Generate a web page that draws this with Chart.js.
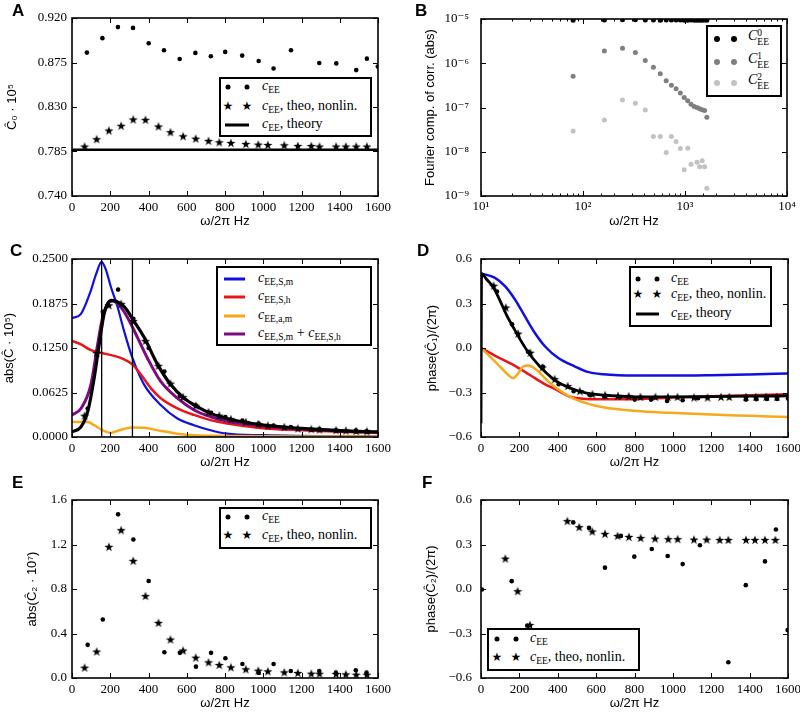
<!DOCTYPE html>
<html>
<head>
<meta charset="utf-8">
<title>Fourier components of EE correlations</title>
<script src="https://cdn.jsdelivr.net/npm/chart.js@4.4.1/dist/chart.umd.min.js"></script>
<style>
  body { margin: 0; width: 800px; height: 720px; position: relative; overflow: hidden; background: #fff; }
  .panel { position: absolute; width: 400px; height: 238px; }
  .tag { position: absolute; font: bold 17px "Liberation Sans", Arial, sans-serif; line-height: 17px; }
  .legend { position: absolute; box-sizing: border-box; border: 2px solid #000; background: #fff; }
  .lbl { position: absolute; font: 14px "Liberation Serif", "DejaVu Serif", serif; line-height: 14px; white-space: nowrap; transform: translateY(-55%); }
  .lbl sub { font-size: 9.5px; vertical-align: -3px; line-height: 0; }
  .dot { position: absolute; width: 5px; height: 5px; border-radius: 50%; transform: translate(-50%, -50%); }
  .star { position: absolute; font: 12px "DejaVu Sans", sans-serif; line-height: 12px; transform: translate(-50%, -55%); }
  .seg { position: absolute; height: 3px; transform: translateY(-50%); }
  .ss { display: inline-block; vertical-align: -5px; font-size: 9.5px; line-height: 9px; }
  .ss span { display: block; }
</style>
</head>
<body>
<script>
// ---------- data ----------
const freqTicks = [0, 200, 400, 600, 800, 1000, 1200, 1400, 1600];
const starFreq = [66, 129, 193, 257, 320, 384, 452, 515, 581, 647, 714, 770, 831, 909, 974, 1024, 1110, 1181, 1251, 1294, 1381, 1432, 1486, 1542];

// A: C0
const c0Ticks = [0.740, 0.785, 0.830, 0.875, 0.920];
const dotFreqA = [78, 159, 240, 319, 401, 481, 563, 645, 726, 801, 890, 976, 1054, 1145, 1293, 1382, 1486, 1542, 1599];
const c0Sim = [0.885, 0.8996, 0.9108, 0.910, 0.8945, 0.8874, 0.8786, 0.8847, 0.8813, 0.8857, 0.882, 0.8765, 0.869, 0.8874, 0.8745, 0.8741, 0.8673, 0.8789, 0.871];
const c0Nonlin = [0.790, 0.7974, 0.8062, 0.811, 0.8174, 0.817, 0.8103, 0.8045, 0.8004, 0.798, 0.7957, 0.7943, 0.7936, 0.7926, 0.792, 0.7916, 0.7913, 0.7906, 0.7906, 0.790, 0.790, 0.790, 0.790, 0.790];
const c0Theory = 0.7868;

// B: fourier components (log-log)
const freqB = [80, 162, 244, 326, 408, 490, 572, 654, 736, 818, 900, 982, 1064, 1146, 1228, 1310, 1392, 1474, 1556, 1638];
const fourier0 = [9.4e-6, 9.5e-6, 9.6e-6, 9.6e-6, 9.5e-6, 9.5e-6, 9.4e-6, 9.5e-6, 9.5e-6, 9.5e-6, 9.5e-6, 9.4e-6, 9.4e-6, 9.5e-6, 9.4e-6, 9.4e-6, 9.4e-6, 9.4e-6, 9.5e-6, 9.4e-6];
const fourier1 = [5.06e-7, 1.89e-6, 2.17e-6, 1.76e-6, 1.16e-6, 8.1e-7, 5.8e-7, 4.0e-7, 3.2e-7, 2.65e-7, 2.14e-7, 1.68e-7, 1.43e-7, 1.18e-7, 1.05e-7, 1.0e-7, 9.4e-8, 8.9e-8, 8.6e-8, 6.0e-8];
const fourier2 = [2.95e-8, 5.2e-8, 1.48e-7, 1.24e-7, 8.8e-8, 2.2e-8, 2.2e-8, 9.6e-9, 2.2e-8, 1.7e-8, 1.19e-8, 3.9e-9, 1.2e-8, 5.2e-9, null, 5.8e-9, 4.6e-9, 6.3e-9, 4.6e-9, 1.5e-9];

// C: abs(C1)
const absTicksC = [0, 0.0625, 0.125, 0.1875, 0.25];
const sMFreqC = [0, 47, 99, 125, 155, 177, 203, 238, 272, 316, 377, 464, 551, 638, 724, 811, 1000, 1200, 1400, 1600];
const sMAbs = [0.167, 0.173, 0.206, 0.228, 0.246, 0.235, 0.211, 0.183, 0.149, 0.111, 0.0736, 0.045, 0.026, 0.0166, 0.0095, 0.0047, 0.0025, 0.0015, 0.001, 0.0007];
const sHFreqC = [0, 47, 99, 155, 221, 273, 316, 360, 412, 464, 551, 638, 724, 811, 984, 1200, 1400, 1600];
const sHAbs = [0.135, 0.130, 0.122, 0.118, 0.114, 0.109, 0.102, 0.0878, 0.0687, 0.0545, 0.0403, 0.031, 0.0237, 0.019, 0.0128, 0.0095, 0.0072, 0.0057];
const aMFreqC = [0, 47, 82, 116, 160, 203, 247, 316, 377, 464, 551, 638, 811, 1000, 1200, 1600];
const aMAbs = [0.0213, 0.0209, 0.0209, 0.0166, 0.0095, 0.0057, 0.0095, 0.0133, 0.013, 0.0085, 0.0047, 0.0024, 0.0015, 0.001, 0.0007, 0.0005];
const sumFreqC = [0, 47, 99, 134, 160, 186, 212, 247, 290, 342, 394, 464, 551, 638, 724, 811, 984, 1200, 1400, 1600];
const sumAbs = [0.0308, 0.040, 0.0736, 0.130, 0.168, 0.187, 0.191, 0.185, 0.168, 0.140, 0.111, 0.078, 0.0545, 0.038, 0.0285, 0.0223, 0.0157, 0.011, 0.0085, 0.0065];
const theoFreqC = [0, 47, 82, 116, 142, 168, 203, 229, 273, 316, 377, 447, 516, 586, 655, 724, 811, 984, 1200, 1400, 1600];
const theoAbs = [0.0071, 0.0142, 0.0356, 0.083, 0.130, 0.173, 0.192, 0.191, 0.183, 0.166, 0.140, 0.102, 0.0736, 0.0545, 0.0427, 0.0332, 0.026, 0.0175, 0.012, 0.009, 0.0071];
const dotFreqC = [82, 161, 241, 321, 401, 483, 564, 648, 727, 802, 891, 976, 1054, 1144, 1293, 1380, 1484, 1540];
const c1AbsSim = [0.04, 0.176, 0.207, 0.166, 0.125, 0.092, 0.058, 0.044, 0.034, 0.028, 0.023, 0.019, 0.016, 0.014, 0.011, 0.0095, 0.009, 0.008];
const c1AbsNonlin = [0.03, 0.118, 0.185, 0.187, 0.163, 0.135, 0.10, 0.075, 0.056, 0.044, 0.035, 0.03, 0.025, 0.021, 0.018, 0.016, 0.014, 0.012, 0.011, 0.0105, 0.0095, 0.009, 0.0085, 0.008];
const markerFreqC = [155, 316];

// D: phase(C1)
const phaseTicks = [-0.6, -0.3, 0, 0.3, 0.6];
const sMFreqD = [0, 73, 125, 177, 229, 281, 334, 403, 490, 551, 637, 811, 985, 1200, 1400, 1600];
const sMPhase = [0.503, 0.473, 0.417, 0.327, 0.213, 0.101, 0.01, -0.068, -0.125, -0.159, -0.177, -0.186, -0.186, -0.183, -0.178, -0.172];
const sHFreqD = [0, 82, 168, 255, 325, 394, 464, 551, 637, 811, 985, 1200, 1400, 1600];
const sHPhase = [0, -0.058, -0.114, -0.182, -0.238, -0.283, -0.329, -0.344, -0.346, -0.344, -0.335, -0.325, -0.318, -0.311];
const aMFreqD = [0, 47, 99, 142, 168, 194, 220, 247, 290, 342, 394, 464, 551, 637, 811, 985, 1200, 1400, 1600];
const aMPhase = [0, -0.058, -0.125, -0.182, -0.204, -0.170, -0.125, -0.118, -0.148, -0.215, -0.272, -0.329, -0.373, -0.4, -0.425, -0.437, -0.449, -0.457, -0.465];
const theoFreqD = [0, 3, 30, 64, 99, 134, 168, 203, 247, 290, 342, 394, 464, 551, 637, 811, 1000, 1200, 1400, 1600];
const theoPhase = [-0.507, 0.5, 0.462, 0.41, 0.32, 0.22, 0.14, 0.06, -0.03, -0.10, -0.17, -0.225, -0.27, -0.305, -0.318, -0.329, -0.33, -0.328, -0.325, -0.323];
const dotFreqD = [83, 162, 245, 323, 405, 483, 565, 643, 723, 801, 886, 970, 1051, 1131, 1381, 1435, 1490, 1543, 1600];
const c1PhaseSim = [0.381, 0.16, -0.025, -0.126, -0.244, -0.291, -0.316, -0.33, -0.332, -0.348, -0.348, -0.357, -0.352, -0.339, -0.348, -0.345, -0.343, -0.343, -0.34];
const c1PhaseNonlin = [0.42, 0.273, 0.097, -0.032, -0.131, -0.21, -0.257, -0.291, -0.312, -0.318, -0.323, -0.325, -0.33, -0.33, -0.33, -0.33, -0.334, -0.334, -0.33, -0.33, -0.33, -0.33, -0.33, -0.33];

// E: abs(C2)
const absTicksE = [0, 0.4, 0.8, 1.2, 1.6];
const dotFreqE = [82, 161, 241, 321, 401, 483, 564, 648, 727, 802, 891, 976, 1054, 1144, 1293, 1380, 1484, 1540];
const c2AbsSim = [0.298, 0.526, 1.471, 1.245, 0.872, 0.232, 0.226, 0.102, 0.226, 0.177, 0.126, 0.045, 0.126, 0.063, 0.063, 0.048, 0.069, 0.048];
const c2AbsNonlin = [0.093, 0.238, 1.179, 1.329, 1.053, 0.737, 0.496, 0.346, 0.247, 0.183, 0.141, 0.117, 0.096, 0.078, 0.066, 0.06, 0.051, 0.045, 0.039, 0.039, 0.036, 0.033, 0.03, 0.03];

// F: phase(C2)
const dotFreqF = [5, 160, 241, 481, 563, 646, 729, 799, 890, 973, 1051, 1141, 1289, 1380, 1480, 1537, 1598];
const c2PhaseSim = [-0.003, 0.053, -0.247, 0.449, 0.412, 0.144, 0.358, 0.218, 0.27, 0.222, 0.168, 0.295, -0.494, 0.026, 0.186, 0.401, -0.277];
const starFreqF = [127, 191, 255, 450, 512, 580, 646, 712, 771, 832, 907, 976, 1025, 1110, 1176, 1244, 1289, 1381, 1428, 1480, 1534];
const c2PhaseNonlin = [0.205, -0.015, -0.243, 0.458, 0.417, 0.388, 0.372, 0.358, 0.351, 0.344, 0.34, 0.336, 0.336, 0.333, 0.333, 0.331, 0.331, 0.331, 0.331, 0.331, 0.331];

// ---------- helpers ----------
const BLUE = '#1010e0', RED = '#e8161b', ORANGE = '#f7a81b', PURPLE = '#7d0a80';
const GRAY1 = '#7f7f7f', GRAY2 = '#c2c2c2';
const tickFont = { family: '"Liberation Serif", "DejaVu Serif", serif', size: 13 };
const titleFont = { family: '"Liberation Sans", Arial, sans-serif', size: 13 };

const STAR = (() => {
  const c = document.createElement('canvas');
  c.width = c.height = 10;
  const g = c.getContext('2d');
  g.beginPath();
  for (let i = 0; i < 10; i++) {
    const r = i % 2 ? 1.9 : 4.8;
    const a = -Math.PI / 2 + i * Math.PI / 5;
    g.lineTo(5 + r * Math.cos(a), 5.4 + r * Math.sin(a));
  }
  g.closePath();
  g.fillStyle = '#000';
  g.fill();
  return c;
})();

const pts = (xs, ys) => xs.map((x, i) => ({ x, y: ys[i] })).filter(p => p.y != null);
const curve = (xs, ys, color, width, order) => ({
  data: pts(xs, ys), showLine: true, borderColor: color, borderWidth: width,
  pointRadius: 0, cubicInterpolationMode: 'monotone', order
});
const dots = (xs, ys, color, r, order) => ({
  data: pts(xs, ys), pointStyle: 'circle', pointRadius: r, pointBorderWidth: 0,
  backgroundColor: color, borderColor: color, order
});
const stars = (xs, ys, order) => ({ data: pts(xs, ys), pointStyle: STAR, pointRadius: 4, order });

const SUP = { '-': '⁻', '0': '⁰', '1': '¹', '2': '²', '3': '³', '4': '⁴', '5': '⁵', '6': '⁶', '7': '⁷', '8': '⁸', '9': '⁹' };
const isDecade = v => Math.abs(Math.log10(v) - Math.round(Math.log10(v))) < 1e-6;
const decadeLabel = v => isDecade(v) ? '10' + String(Math.round(Math.log10(v))).split('').map(c => SUP[c]).join('') : '';
const fixed = n => v => v.toFixed(n).replace('-', '\u2212');

// frame + inward ticks on all four sides
const frameTicks = {
  id: 'frameTicks',
  afterDatasetsDraw(chart) {
    const { ctx, chartArea: a } = chart;
    ctx.save();
    ctx.strokeStyle = '#000';
    ctx.lineWidth = 1;
    ctx.beginPath();
    ['x', 'y'].forEach(id => {
      const s = chart.scales[id];
      s.ticks.forEach(t => {
        const major = s.type !== 'logarithmic' || isDecade(t.value);
        if (!major && id === 'y') return;
        const len = major ? 5 : 2.5;
        const p = Math.round(s.getPixelForValue(t.value)) + 0.5;
        if (id === 'x') {
          ctx.moveTo(p, a.bottom); ctx.lineTo(p, a.bottom - len);
          ctx.moveTo(p, a.top); ctx.lineTo(p, a.top + len);
        } else {
          ctx.moveTo(a.left, p); ctx.lineTo(a.left + len, p);
          ctx.moveTo(a.right, p); ctx.lineTo(a.right - len, p);
        }
      });
    });
    ctx.stroke();
    ctx.lineWidth = 1.6;
    ctx.strokeRect(a.left, a.top, a.right - a.left, a.bottom - a.top);
    ctx.restore();
  }
};

function axis(o, isX, padLeft) {
  const ax = {
    type: o.log ? 'logarithmic' : 'linear',
    min: isX ? o.xMin : o.yMin,
    max: isX ? o.xMax : o.yMax,
    grid: { display: false, drawTicks: false },
    border: { display: false },
    ticks: {
      font: tickFont, color: '#000', autoSkip: false, maxRotation: 0,
      padding: isX ? (o.log ? 3 : 4) : o.yPad,
      callback: o.log ? decadeLabel : (isX ? fixed(0) : fixed(o.yDigits))
    },
    title: { display: true, text: isX ? 'ω/2π Hz' : o.yTitle, font: titleFont, color: '#000', padding: 0 }
  };
  const tickList = isX ? o.xTicks : o.yTicks;
  if (tickList) ax.afterBuildTicks = s => { s.ticks = tickList.map(v => ({ value: v })); };
  ax.afterFit = isX
    ? s => { s.height = 33; s.paddingLeft = 0; s.paddingRight = 0; }
    : s => { s.width = o.areaLeft - padLeft; s.paddingTop = 0; s.paddingBottom = 0; };
  return ax;
}

function makePanel(o) {
  const wrap = document.createElement('div');
  wrap.className = 'panel';
  wrap.style.left = o.left + 'px';
  wrap.style.top = o.top + 'px';
  const cv = document.createElement('canvas');
  wrap.appendChild(cv);
  document.body.appendChild(wrap);
  const padLeft = o.titleX - 8;
  return new Chart(cv, {
    type: 'scatter',
    data: { datasets: o.datasets },
    plugins: [frameTicks],
    options: {
      responsive: true, maintainAspectRatio: false, animation: false,
      layout: { padding: { left: padLeft, right: 400 - o.areaRight, top: o.areaTop, bottom: 9 } },
      plugins: { legend: { display: false }, tooltip: { enabled: false } },
      scales: { x: axis(o, true, padLeft), y: axis(o, false, padLeft) }
    }
  });
}

function tag(ch, x, y) {
  const d = document.createElement('div');
  d.className = 'tag';
  d.textContent = ch;
  d.style.left = x + 'px';
  d.style.top = y + 'px';
  document.body.appendChild(d);
}

function addLegend(box, rows) {
  const el = document.createElement('div');
  el.className = 'legend';
  Object.assign(el.style, { left: box[0] + 'px', top: box[1] + 'px', width: box[2] + 'px', height: box[3] + 'px' });
  const ox = box[0] + 2, oy = box[1] + 2;
  rows.forEach(r => {
    if (r.kind === 'line') {
      const s = document.createElement('div');
      s.className = 'seg';
      Object.assign(s.style, { left: (r.mx[0] - ox) + 'px', width: (r.mx[1] - r.mx[0]) + 'px', top: (r.y - oy) + 'px', background: r.color });
      el.appendChild(s);
    } else {
      r.mx.forEach(x => {
        const m = document.createElement('div');
        if (r.kind === 'star') { m.className = 'star'; m.textContent = '★'; }
        else { m.className = 'dot'; m.style.background = r.color; if (r.big) { m.style.width = m.style.height = '6px'; } }
        m.style.left = (x - ox) + 'px';
        m.style.top = (r.y - oy) + 'px';
        el.appendChild(m);
      });
    }
    const l = document.createElement('div');
    l.className = 'lbl';
    l.innerHTML = r.html;
    l.style.left = (r.lx - ox) + 'px';
    l.style.top = (r.y - oy) + 'px';
    el.appendChild(l);
  });
  document.body.appendChild(el);
}

// ---------- panels ----------
const ROW = [0, 241, 482];
const common = { xMin: 0, xMax: 1600, xTicks: freqTicks, areaTop: 18 };

makePanel({ ...common, left: 0, top: ROW[0], areaLeft: 72, areaRight: 378, titleX: 13, yPad: 5,
  yMin: 0.74, yMax: 0.92, yTicks: c0Ticks, yDigits: 3, yTitle: 'Ĉ₀ · 10⁵',
  datasets: [
    curve([0, 1600], [c0Theory, c0Theory], '#000', 2.5, 5),
    dots(dotFreqA, c0Sim, '#000', 2.3, 1),
    stars(starFreq, c0Nonlin, 1)
  ] });

makePanel({ left: 400, top: ROW[0], areaLeft: 81, areaRight: 387, areaTop: 19, titleX: 31, yPad: 12, log: true,
  xMin: 10, xMax: 10000, yMin: 1e-9, yMax: 1e-5, yTitle: 'Fourier comp. of corr. (abs)',
  datasets: [
    dots(freqB, fourier2, GRAY2, 2.5, 3),
    dots(freqB, fourier1, GRAY1, 2.5, 2),
    dots(freqB, fourier0, '#000', 2.5, 1)
  ] });

makePanel({ ...common, left: 0, top: ROW[1], areaLeft: 72, areaRight: 378, titleX: 10, yPad: 4,
  yMin: 0, yMax: 0.25, yTicks: absTicksC, yDigits: 4, yTitle: 'abs(Ĉ · 10⁵)',
  datasets: [
    curve([markerFreqC[0], markerFreqC[0]], [0, 0.25], '#000', 1.3, 4),
    curve([markerFreqC[1], markerFreqC[1]], [0, 0.25], '#000', 1.3, 4),
    curve(sMFreqC, sMAbs, BLUE, 2.2, 9),
    curve(sHFreqC, sHAbs, RED, 2.5, 8),
    curve(aMFreqC, aMAbs, ORANGE, 2.5, 7),
    curve(sumFreqC, sumAbs, PURPLE, 3, 6),
    curve(theoFreqC, theoAbs, '#000', 3.2, 5),
    dots(dotFreqC, c1AbsSim, '#000', 2.3, 1),
    stars(starFreq, c1AbsNonlin, 1)
  ] });

makePanel({ ...common, left: 400, top: ROW[1], areaLeft: 81, areaRight: 388, titleX: 33, yPad: 9,
  yMin: -0.6, yMax: 0.6, yTicks: phaseTicks, yDigits: 1, yTitle: 'phase(Ĉ₁)/(2π)',
  datasets: [
    curve(sMFreqD, sMPhase, BLUE, 2.5, 9),
    curve(sHFreqD, sHPhase, RED, 2.5, 8),
    curve(aMFreqD, aMPhase, ORANGE, 2.5, 7),
    curve(theoFreqD, theoPhase, '#000', 2.8, 5),
    dots(dotFreqD, c1PhaseSim, '#000', 2.3, 1),
    stars(starFreq, c1PhaseNonlin, 1)
  ] });

makePanel({ ...common, left: 0, top: ROW[2], areaLeft: 72, areaRight: 378, titleX: 33, yPad: 5,
  yMin: 0, yMax: 1.6, yTicks: absTicksE, yDigits: 1, yTitle: 'abs(Ĉ₂ · 10⁷)',
  datasets: [
    dots(dotFreqE, c2AbsSim, '#000', 2.3, 1),
    stars(starFreq, c2AbsNonlin, 1)
  ] });

makePanel({ ...common, left: 400, top: ROW[2], areaLeft: 81, areaRight: 388, titleX: 32, yPad: 9,
  yMin: -0.6, yMax: 0.6, yTicks: phaseTicks, yDigits: 1, yTitle: 'phase(Ĉ₂)/(2π)',
  datasets: [
    dots(dotFreqF, c2PhaseSim, '#000', 2.3, 1),
    stars(starFreqF, c2PhaseNonlin, 1)
  ] });

// ---------- panel letters ----------
tag('A', 12, 2);
tag('B', 415, 2);
tag('C', 10, 242);
tag('D', 417, 242);
tag('E', 12, 474);
tag('F', 422, 474);

// ---------- legends ----------
const cEE = '<i>c</i><sub>EE</sub>';
addLegend([219, 77, 153, 60], [
  { kind: 'dot', color: '#000', mx: [228, 247], y: 87, lx: 262, html: cEE },
  { kind: 'star', mx: [228, 247], y: 106.5, lx: 262, html: cEE + ', theo, nonlin.' },
  { kind: 'line', color: '#000', mx: [225, 249], y: 125, lx: 262, html: cEE + ', theory' }
]);
const bigC = k => '<i>C</i><span class="ss"><span>' + k + '</span><span>EE</span></span>';
addLegend([706, 25, 76, 72], [
  { kind: 'dot', color: '#000', big: true, mx: [717, 734], y: 38.5, lx: 748, html: bigC(0) },
  { kind: 'dot', color: GRAY1, big: true, mx: [717, 734], y: 61.5, lx: 748, html: bigC(1) },
  { kind: 'dot', color: GRAY2, big: true, mx: [717, 734], y: 82.5, lx: 748, html: bigC(2) }
]);
addLegend([216, 266, 156, 80], [
  { kind: 'line', color: BLUE, mx: [224, 245], y: 278.5, lx: 258, html: '<i>c</i><sub>EE,S,m</sub>' },
  { kind: 'line', color: RED, mx: [224, 245], y: 296.5, lx: 258, html: '<i>c</i><sub>EE,S,h</sub>' },
  { kind: 'line', color: ORANGE, mx: [224, 245], y: 315.5, lx: 258, html: '<i>c</i><sub>EE,a,m</sub>' },
  { kind: 'line', color: PURPLE, mx: [224, 245], y: 333.5, lx: 258, html: '<i>c</i><sub>EE,S,m</sub> + <i>c</i><sub>EE,S,h</sub>' }
]);
addLegend([629, 266, 143, 61], [
  { kind: 'dot', color: '#000', mx: [638, 657], y: 278.5, lx: 671, html: cEE },
  { kind: 'star', mx: [638, 657], y: 294.5, lx: 671, html: cEE + ', theo, nonlin.' },
  { kind: 'line', color: '#000', mx: [636, 659], y: 313.5, lx: 671, html: cEE + ', theory' }
]);
addLegend([219, 507, 153, 42], [
  { kind: 'dot', color: '#000', mx: [228, 247], y: 517, lx: 262, html: cEE },
  { kind: 'star', mx: [228, 247], y: 536, lx: 262, html: cEE + ', theo, nonlin.' }
]);
addLegend([487, 628, 153, 43], [
  { kind: 'dot', color: '#000', mx: [497, 516], y: 639, lx: 530, html: cEE },
  { kind: 'star', mx: [497, 516], y: 658, lx: 530, html: cEE + ', theo, nonlin.' }
]);
</script>
</body>
</html>
